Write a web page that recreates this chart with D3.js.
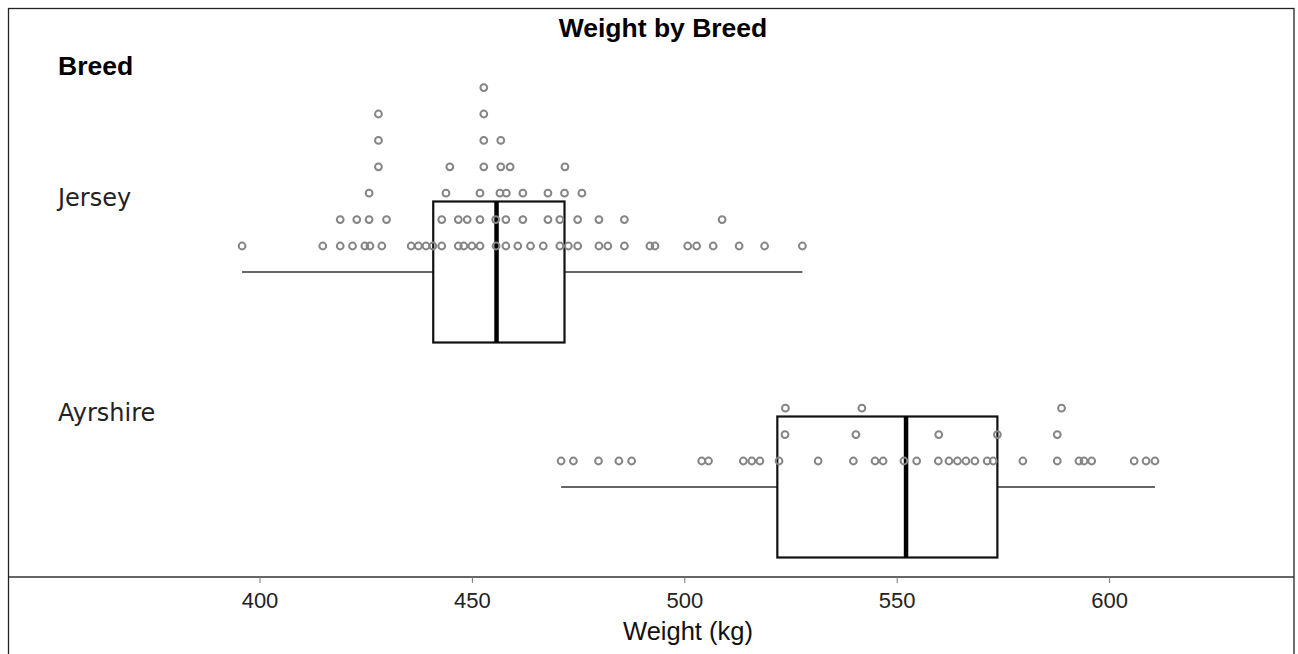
<!DOCTYPE html>
<html>
<head>
<meta charset="utf-8">
<script src="https://cdn.jsdelivr.net/npm/d3@7"></script>
<style>
  html, body { margin: 0; padding: 0; background: #fff; }
  svg { display: block; }
</style>
</head>
<body>
<svg id="chart" width="1298" height="654"></svg>
<script>
// ---------- data ----------
const title = "Weight by Breed";
const groupTitle = "Breed";
const axisTitle = "Weight (kg)";
const categories = ["Jersey", "Ayrshire"];
const xTicks = [400, 450, 500, 550, 600];

// Jersey individual weights, grouped by stacking row (row 0 = lowest)
const jerseyRow0 = [395.9, 414.9, 419.0, 421.9, 424.8, 426.0, 428.8, 435.7, 437.4, 439.2, 440.8, 442.9,
  446.8, 448.1, 450.0, 451.9, 455.7, 458.0, 460.8, 463.8, 466.8, 470.7, 472.7, 474.9, 479.9, 482.0,
  485.9, 491.9, 493.1, 500.8, 502.9, 506.8, 512.9, 518.9, 527.8];
const jerseyRow1 = [419.0, 422.9, 425.8, 429.9, 442.9, 446.8, 448.9, 451.9, 455.6, 458.0, 462.0, 467.9,
  470.7, 474.9, 479.9, 485.9, 508.9];
const jerseyRow2 = [425.8, 443.9, 451.9, 456.6, 458.1, 462.0, 467.9, 471.8, 475.9];
const jerseyRow3 = [428.0, 444.8, 452.8, 456.8, 459.0, 471.9];
const jerseyRow4 = [428.0, 452.8, 456.8];
const jerseyRow5 = [428.0, 452.8];
const jerseyRow6 = [452.8];

// Ayrshire individual weights, grouped by stacking row
const ayrshireRow0 = [471.0, 473.9, 479.8, 484.6, 487.6, 504.1, 505.7, 513.9, 515.9, 517.8, 522.3, 531.5,
  539.8, 544.9, 546.8, 551.7, 554.7, 559.8, 562.3, 564.3, 566.3, 568.4, 571.3, 572.7, 579.7, 587.8,
  592.9, 594.1, 595.9, 605.9, 608.7, 610.8];
const ayrshireRow1 = [523.7, 540.4, 559.9, 573.7, 587.8];
const ayrshireRow2 = [523.8, 541.8, 588.8];

// box summaries: [min, Q1, median, Q3, max]
const jerseyBox = [395.9, 440.9, 455.8, 471.8, 527.8];
const ayrshireBox = [471.0, 521.9, 552.2, 573.7, 610.8];

// ---------- build ----------
const groups = [
  { name: categories[0], rows: [jerseyRow0, jerseyRow1, jerseyRow2, jerseyRow3, jerseyRow4, jerseyRow5, jerseyRow6], box: jerseyBox },
  { name: categories[1], rows: [ayrshireRow0, ayrshireRow1, ayrshireRow2], box: ayrshireBox }
];

const svg = d3.select("#chart");

const x = d3.scaleLinear().domain([400, 600]).range([259.5, 1109.1]);
const y = d3.scalePoint().domain(categories).range([272, 487]);
const rowStep = 26.4;
const dotOffset = 26;
const boxHalf = 70.5;

// frame
svg.append("rect")
  .attr("x", 8.5).attr("y", 8.5)
  .attr("width", 1294 - 8.5).attr("height", 700)
  .attr("fill", "none").attr("stroke", "#222").attr("stroke-width", 1.3);

// title
svg.append("text")
  .attr("x", 663).attr("y", 37)
  .attr("text-anchor", "middle")
  .attr("font-family", "'Liberation Sans', Arial, sans-serif")
  .attr("font-weight", "bold").attr("font-size", 26.5)
  .attr("fill", "#000")
  .text(title);

svg.append("text")
  .attr("x", 58).attr("y", 75)
  .attr("font-family", "'Liberation Sans', Arial, sans-serif")
  .attr("font-weight", "bold").attr("font-size", 26.5)
  .attr("fill", "#000")
  .text(groupTitle);

// category labels
svg.selectAll("text.cat")
  .data(categories)
  .enter().append("text")
  .attr("class", "cat")
  .attr("x", 58)
  .attr("y", d => y(d) - 66)
  .attr("font-family", "'DejaVu Sans', Verdana, sans-serif")
  .attr("font-size", 24)
  .attr("fill", "#222")
  .text(d => d);

const g = svg.append("g");

groups.forEach(grp => {
  const cy = y(grp.name);
  const [mn, q1, md, q3, mx] = grp.box;
  g.append("line")
    .attr("x1", x(mn)).attr("x2", x(q1))
    .attr("y1", cy).attr("y2", cy)
    .attr("stroke", "#333").attr("stroke-width", 1.6);
  g.append("line")
    .attr("x1", x(q3)).attr("x2", x(mx))
    .attr("y1", cy).attr("y2", cy)
    .attr("stroke", "#333").attr("stroke-width", 1.6);
  g.append("rect")
    .attr("x", x(q1)).attr("y", cy - boxHalf)
    .attr("width", x(q3) - x(q1)).attr("height", boxHalf * 2)
    .attr("fill", "none").attr("stroke", "#111").attr("stroke-width", 2.2);
  g.append("line")
    .attr("x1", x(md)).attr("x2", x(md))
    .attr("y1", cy - boxHalf).attr("y2", cy + boxHalf)
    .attr("stroke", "#000").attr("stroke-width", 4.5);
  const pts = [];
  grp.rows.forEach((row, ri) => row.forEach(v => pts.push({ v, ri })));
  g.selectAll(null)
    .data(pts)
    .enter().append("circle")
    .attr("cx", d => x(d.v))
    .attr("cy", d => cy - dotOffset - d.ri * rowStep)
    .attr("r", 3.4)
    .attr("fill", "none")
    .attr("stroke", "#858585")
    .attr("stroke-width", 2);
});

// x axis
const axisY = 577;
svg.append("line")
  .attr("x1", 9).attr("x2", 1294)
  .attr("y1", axisY).attr("y2", axisY)
  .attr("stroke", "#333").attr("stroke-width", 1.6);

const axis = d3.axisBottom(x).tickValues(xTicks).tickSize(6).tickPadding(9).tickFormat(d3.format("d"));
const ax = svg.append("g").attr("transform", `translate(0,${axisY})`).call(axis);
ax.select(".domain").remove();
ax.selectAll(".tick line").attr("stroke", "#777").attr("stroke-width", 1);
ax.selectAll(".tick text")
  .attr("font-family", "'Liberation Sans', Arial, sans-serif")
  .attr("font-size", 22)
  .attr("fill", "#222");

svg.append("text")
  .attr("x", 688).attr("y", 640)
  .attr("text-anchor", "middle")
  .attr("font-family", "'Liberation Sans', Arial, sans-serif")
  .attr("font-size", 25.5)
  .attr("fill", "#111")
  .text(axisTitle);
</script>
</body>
</html>
